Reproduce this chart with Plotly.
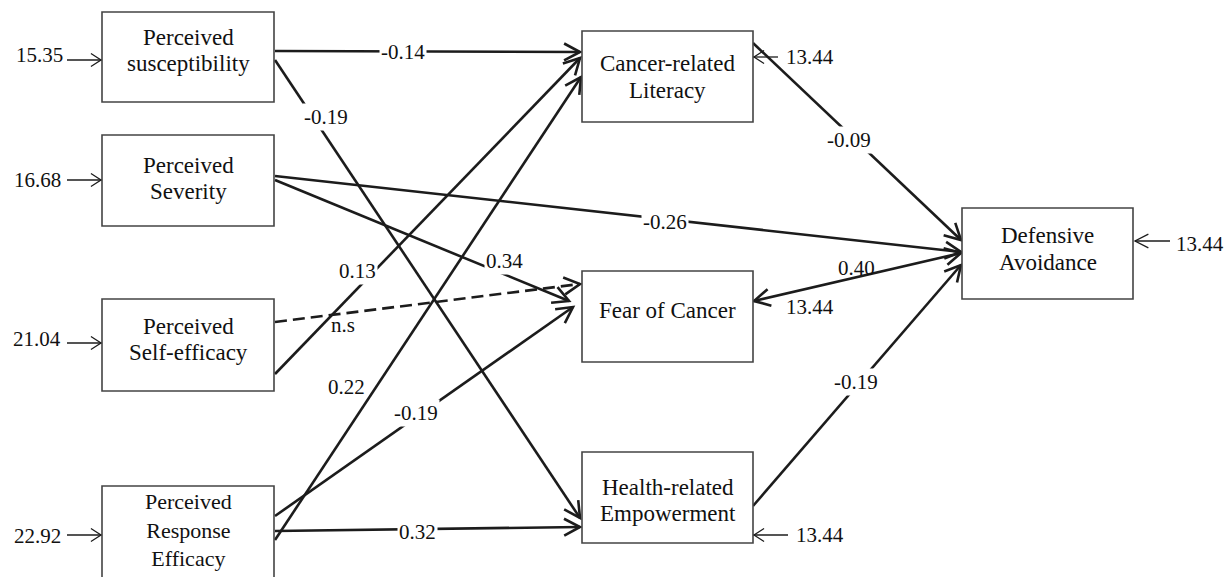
import math
import plotly.graph_objects as go

# ---------------- data ----------------
exogenous = ["Perceived susceptibility", "Perceived Severity",
             "Perceived Self-efficacy", "Perceived Response Efficacy"]
exogenous_error = ["15.35", "16.68", "21.04", "22.92"]
mediators = ["Cancer-related Literacy", "Fear of Cancer", "Health-related Empowerment"]
mediator_error = ["13.44", "13.44", "13.44"]
outcome = ["Defensive Avoidance"]
outcome_error = ["13.44"]

path_source = ["Perceived susceptibility", "Perceived susceptibility",
               "Perceived Severity", "Perceived Severity",
               "Perceived Self-efficacy", "Perceived Self-efficacy",
               "Perceived Response Efficacy", "Perceived Response Efficacy",
               "Perceived Response Efficacy",
               "Cancer-related Literacy", "Fear of Cancer", "Health-related Empowerment"]
path_target = ["Cancer-related Literacy", "Health-related Empowerment",
               "Defensive Avoidance", "Fear of Cancer",
               "Fear of Cancer", "Cancer-related Literacy",
               "Cancer-related Literacy", "Fear of Cancer",
               "Health-related Empowerment",
               "Defensive Avoidance", "Defensive Avoidance", "Defensive Avoidance"]
path_label = ["-0.14", "-0.19", "-0.26", "0.34", "n.s", "0.13",
              "0.22", "-0.19", "0.32", "-0.09", "0.40", "-0.19"]
path_significant = [True, True, True, True, False, True,
                    True, True, True, True, True, True]

node_lines = {
    "Perceived susceptibility": ["Perceived", "susceptibility"],
    "Perceived Severity": ["Perceived", "Severity"],
    "Perceived Self-efficacy": ["Perceived", "Self-efficacy"],
    "Perceived Response Efficacy": ["Perceived", "Response", "Efficacy"],
    "Cancer-related Literacy": ["Cancer-related", "Literacy"],
    "Fear of Cancer": ["Fear of Cancer"],
    "Health-related Empowerment": ["Health-related", "Empowerment"],
    "Defensive Avoidance": ["Defensive", "Avoidance"],
}

# ---------------- layout (pixel geometry) ----------------
W, H = 1227, 577
BOX = {  # x0, x1, y0, y1
    "Perceived susceptibility": (102, 274, 12, 102),
    "Perceived Severity": (102, 274, 135, 226),
    "Perceived Self-efficacy": (102, 274, 299, 391),
    "Perceived Response Efficacy": (102, 274, 486, 582),
    "Cancer-related Literacy": (582, 753, 31, 122),
    "Fear of Cancer": (582, 753, 271, 362),
    "Health-related Empowerment": (582, 753, 452, 543),
    "Defensive Avoidance": (962, 1133, 208, 299),
}
# y of each text line (one value -> all lines in a single block centred there)
TEXT_Y = {
    "Perceived susceptibility": [37, 63],
    "Perceived Severity": [165, 191],
    "Perceived Self-efficacy": [326, 352],
    "Perceived Response Efficacy": [530],
    "Cancer-related Literacy": [63, 90],
    "Fear of Cancer": [310],
    "Health-related Empowerment": [487, 513],
    "Defensive Avoidance": [235, 262],
}
PATH_GEOM = [
    ((275, 51), (580, 52)),
    ((275, 60), (580, 518)),
    ((275, 176), (961, 252)),
    ((275, 180), (569, 301)),
    ((275, 322), (580, 284)),
    ((275, 374), (580, 58)),
    ((275, 540), (581, 77)),
    ((275, 516), (573, 307)),
    ((275, 531), (580, 527)),
    ((753, 43), (961, 240)),
    ((754, 301), (961, 253)),
    ((753, 506), (961, 265)),
]
PATH_BOTH_HEADS = [False] * 10 + [True, False]
LABEL_POS = [(403, 52), (326, 117), (665, 222), (504, 261), (343, 325), (357, 271),
             (346, 387), (416, 413), (417, 532), (849, 140), (856, 268), (856, 382)]
LABEL_BG = [True, True, True, True, False, True, False, True, True, True, False, True]

EXO_ARROW_Y = [60, 180, 343, 535]
EXO_TEXT = [(39, 55), (37, 180), (37, 339), (37, 536)]
MED_ARROW = [((778, 57), (754, 57)), None, ((788, 535), (754, 535))]
MED_TEXT = [(810, 57), (810, 307), (820, 535)]
OUT_ARROW = [((1170, 241), (1135, 241))]
OUT_TEXT = [(1200, 244)]

FONT = "Liberation Serif"
LINE_COLOR = "#1c1c1c"
TEXT_COLOR = "#111111"

fig = go.Figure()
shapes = []
annotations = []


def head_path(tail, tip, L, ang_deg):
    dx, dy = tip[0] - tail[0], tip[1] - tail[1]
    d = math.hypot(dx, dy)
    ux, uy = -dx / d, -dy / d
    pts = []
    for s in (1, -1):
        a = math.radians(ang_deg) * s
        rx = ux * math.cos(a) - uy * math.sin(a)
        ry = ux * math.sin(a) + uy * math.cos(a)
        pts.append((tip[0] + L * rx, tip[1] + L * ry))
    return (f"M{pts[0][0]:.2f},{pts[0][1]:.2f} L{tip[0]},{tip[1]} "
            f"L{pts[1][0]:.2f},{pts[1][1]:.2f}")


def arrow(tail, tip, width, L, ang, dash=None, both=False):
    line = dict(color=LINE_COLOR, width=width)
    if dash:
        line["dash"] = dash
    shapes.append(dict(type="line", xref="x", yref="y", x0=tail[0], y0=tail[1],
                       x1=tip[0], y1=tip[1], line=line))
    hl = dict(color=LINE_COLOR, width=width)
    shapes.append(dict(type="path", xref="x", yref="y",
                       path=head_path(tail, tip, L, ang), line=hl))
    if both:
        shapes.append(dict(type="path", xref="x", yref="y",
                           path=head_path(tip, tail, L, ang), line=hl))


def text(x, y, s, size, bg=None):
    a = dict(x=x, y=y, xref="x", yref="y", text=s, showarrow=False,
             xanchor="center", yanchor="middle",
             font=dict(family=FONT, size=size, color=TEXT_COLOR))
    if bg:
        a["bgcolor"] = bg
        a["borderpad"] = 1
    annotations.append(a)


# paths
for i in range(len(path_label)):
    tail, tip = PATH_GEOM[i]
    arrow(tail, tip, 2.6, 18, 28,
          dash=None if path_significant[i] else "12px,6px",
          both=PATH_BOTH_HEADS[i])
    lx, ly = LABEL_POS[i]
    text(lx, ly, path_label[i], 21, "white" if LABEL_BG[i] else None)

# boxes
for name, (x0, x1, y0, y1) in BOX.items():
    shapes.append(dict(type="rect", xref="x", yref="y", x0=x0, x1=x1, y0=y0, y1=y1,
                       line=dict(color="#444444", width=1.6), fillcolor="white"))
    cx = (x0 + x1) / 2
    lines = node_lines[name]
    ys = TEXT_Y[name]
    if len(ys) == len(lines):
        for ln, yy in zip(lines, ys):
            text(cx, yy, ln, 23)
    else:
        text(cx, ys[0], "<br>".join(lines), 22)

# exogenous error terms
for i, name in enumerate(exogenous):
    y = EXO_ARROW_Y[i]
    arrow((67, y), (101, y), 1.3, 12, 33)
    tx, ty = EXO_TEXT[i]
    text(tx, ty, exogenous_error[i], 21)

# mediator error terms
for i, name in enumerate(mediators):
    if MED_ARROW[i] is not None:
        tail, tip = MED_ARROW[i]
        arrow(tail, tip, 1.3, 12, 33)
    tx, ty = MED_TEXT[i]
    text(tx, ty, mediator_error[i], 21)

# outcome error term
for i, name in enumerate(outcome):
    tail, tip = OUT_ARROW[i]
    arrow(tail, tip, 1.3, 15, 27)
    tx, ty = OUT_TEXT[i]
    text(tx, ty, outcome_error[i], 21)

fig.update_layout(
    width=W, height=H,
    margin=dict(l=0, r=0, t=0, b=0),
    paper_bgcolor="white", plot_bgcolor="white",
    xaxis=dict(range=[0, W], visible=False, fixedrange=True),
    yaxis=dict(range=[H, 0], visible=False, fixedrange=True),
    shapes=shapes, annotations=annotations, showlegend=False,
)

fig.write_html("out.html", config={"displayModeBar": False},
               post_script="document.body.style.margin='0';")
